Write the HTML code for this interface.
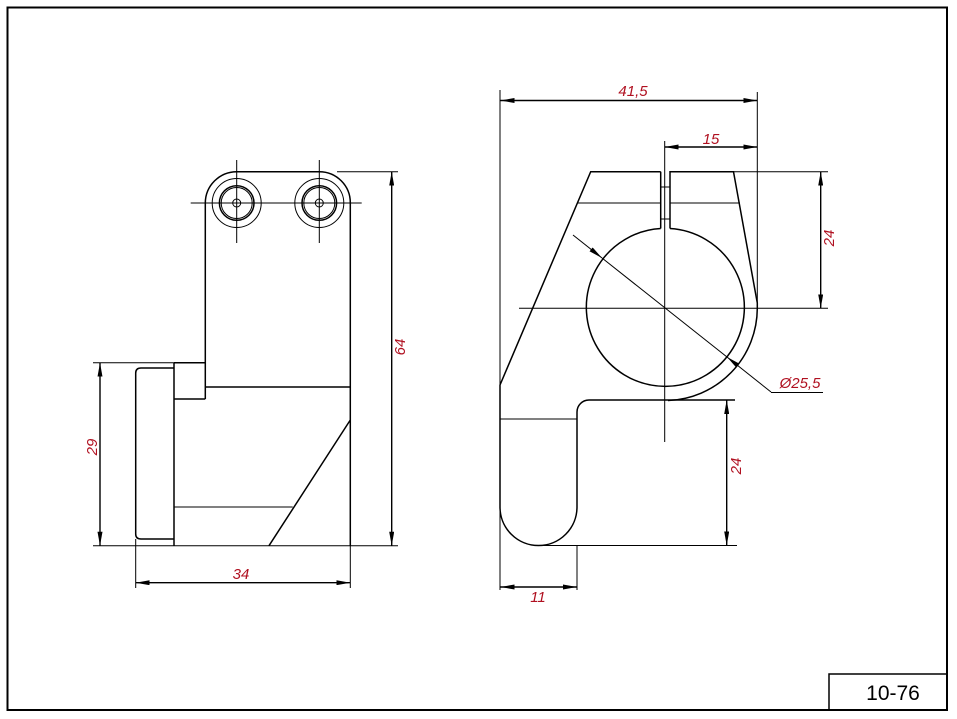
<!DOCTYPE html>
<html><head><style>html,body{margin:0;padding:0;background:#fff}svg{display:block}</style></head>
<body>
<svg width="957" height="719" viewBox="0 0 957 719" xmlns="http://www.w3.org/2000/svg">
<defs>
<marker id="a" viewBox="0 0 14 5" refX="14" refY="2.5" markerWidth="14" markerHeight="5" orient="auto-start-reverse" markerUnits="userSpaceOnUse"><path d="M0,0 L14,2.5 L0,5 z" fill="#000"/></marker>
</defs>
<rect x="7.5" y="7.5" width="939.5" height="702.5" fill="none" stroke="#000" stroke-width="2"/>
<rect x="829" y="674" width="118" height="36" fill="none" stroke="#000" stroke-width="1.5"/>
<text x="893" y="700" font-family="Liberation Sans, sans-serif" font-size="21" text-anchor="middle">10-76</text>

<g fill="none" stroke="#000" stroke-width="1">
<!-- LEFT VIEW -->
<g stroke-width="1.5">
<path d="M205.3,399 V203 A31.5,31.5 0 0 1 236.7,171.7 H319.3 A31,31 0 0 1 350.3,203 V545.7"/>
<path d="M205.3,387 H350.3"/>
<path d="M174,362.7 H205.3 M174,399 H205.3 M174,362.7 V545.7"/>
<path d="M174,368 H141 Q135.7,368 135.7,373 V534 Q135.7,539 141,539 H174"/>
<path d="M350.3,420 L269,545.7"/>
<circle cx="236.7" cy="203" r="17.3"/><circle cx="319.3" cy="203" r="17.3"/>
</g>
<circle cx="236.7" cy="203" r="24.5"/><circle cx="319.3" cy="203" r="24.5"/>
<circle cx="236.7" cy="203" r="15.5"/><circle cx="319.3" cy="203" r="15.5"/>
<circle cx="236.7" cy="203" r="4"/><circle cx="319.3" cy="203" r="4"/>
<path d="M190.7,203 H361.7 M236.7,160 V243 M319.3,160 V243"/>
<path d="M174,507 H292.7"/>
<path d="M93,545.7 H398 M93,362.7 H174 M337,171.7 H398 M135.7,539 V588 M350.3,545.7 V588"/>
<g stroke-width="1.4">
<path d="M100,362.7 V545.7" marker-start="url(#a)" marker-end="url(#a)"/>
<path d="M391.7,171.7 V545.7" marker-start="url(#a)" marker-end="url(#a)"/>
<path d="M135.7,582.7 H350.3" marker-start="url(#a)" marker-end="url(#a)"/>
</g>

<!-- RIGHT VIEW -->
<g stroke-width="1.5">
<path d="M660.7,171.7 H590.7 L500,385 V507 A38.5,38.5 0 0 0 577,507 V412 A12,12 0 0 1 589,400 H735"/>
<path d="M670,228.5 V171.7 H733.5 L757.3,303 V308.3 A92.5,92.5 0 0 1 668,400.5"/>
<path d="M660.7,171.7 V228.5"/>
<path d="M670,228.5 A79,79 0 1 1 660.7,228.5"/>
</g>
<path d="M660.7,187 H670 M660.7,219 H670"/>
<path d="M578,203 H660.7 M670,203 H740"/>
<path d="M500,419 H577"/>
<path d="M519,308.3 H828 M664.7,141 V442 M733.5,171.7 H828"/>
<path d="M500,90 V590 M757.3,92 V303 M577,545 V590 M540,545.5 H737"/>
<g stroke-width="1.4">
<path d="M500.5,100.5 H757.3" marker-start="url(#a)" marker-end="url(#a)"/>
<path d="M664.7,147 H757.3" marker-start="url(#a)" marker-end="url(#a)"/>
<path d="M500.5,587 H577" marker-start="url(#a)" marker-end="url(#a)"/>
<path d="M820.7,171.7 V308.3" marker-start="url(#a)" marker-end="url(#a)"/>
<path d="M726.7,400 V545.5" marker-start="url(#a)" marker-end="url(#a)"/>
</g>
<path d="M573,235 L602,258" marker-end="url(#a)"/>
<path d="M602,258 L727,357" />
<path d="M771,392 L727,357" marker-end="url(#a)"/>
<path d="M771,392.5 H823"/>
</g>

<g font-family="Liberation Sans, sans-serif" font-size="15" font-style="italic" fill="#b01020">
<text x="241" y="579" text-anchor="middle">34</text>
<text x="0" y="0" text-anchor="middle" transform="translate(97,447) rotate(-90)">29</text>
<text x="0" y="0" text-anchor="middle" transform="translate(405,347) rotate(-90)">64</text>
<text x="633" y="96" text-anchor="middle">41,5</text>
<text x="711" y="144" text-anchor="middle">15</text>
<text x="0" y="0" text-anchor="middle" transform="translate(834,238) rotate(-90)">24</text>
<text x="0" y="0" text-anchor="middle" transform="translate(741,466) rotate(-90)">24</text>
<text x="538" y="602" text-anchor="middle">11</text>
<text x="800" y="388" text-anchor="middle">Ø25,5</text>
</g>
</svg>
</body></html>
